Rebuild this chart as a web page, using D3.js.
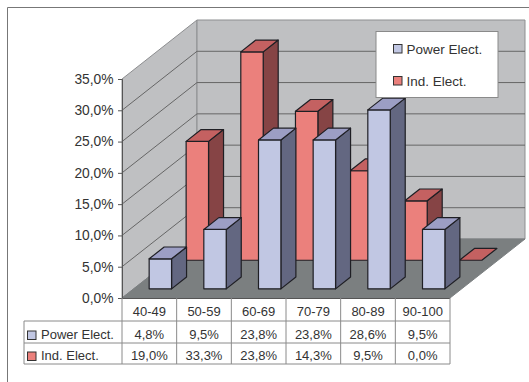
<!DOCTYPE html>
<html>
<head>
<meta charset="utf-8">
<script src="https://cdn.jsdelivr.net/npm/d3@7/dist/d3.min.js"></script>
<style>
html,body{margin:0;padding:0;background:#fff;overflow:hidden}
svg{display:block}
text{font-family:"Liberation Sans",Arial,sans-serif;fill:#333}
</style>
</head>
<body>
<svg id="chart" width="529" height="382"></svg>
<script>
const categories = ["40-49","50-59","60-69","70-79","80-89","90-100"];
const powerElect = [4.8,9.5,23.8,23.8,28.6,9.5];
const indElect = [19.0,33.3,23.8,14.3,9.5,0.0];
const yTicks = [0,5,10,15,20,25,30,35];

const palette = {
  power:{front:"#c1c7e3",top:"#9c9ec4",side:"#636781",key:"#c1c7e3"},
  ind:{front:"#eb807c",top:"#c46161",side:"#864445",key:"#eb807c"}
};
const series = [
  {name:"Ind. Elect.",values:indElect,colors:palette.ind,lane:0.64,shift:0},
  {name:"Power Elect.",values:powerElect,colors:palette.power,lane:0.155,shift:-0.6}
];
const rows = [series[1],series[0]];

const svg = d3.select("#chart");
const x = d3.scaleBand().domain(categories).range([122,450]);
const y = d3.scaleLinear().domain([0,35]).range([298,79]);
// Oblique projection: depth 0 is the front edge of the floor, 1 the back wall.
const depthX = d3.scaleLinear().domain([0,1]).range([0,75]);
const depthY = d3.scaleLinear().domain([0,1]).range([0,-59]);
const project = (px,value,depth)=>[px+depthX(depth),y(value)+depthY(depth)];
const poly = pts=>pts.map(p=>p.join(",")).join(" ");

// Chart area frame, open on the right and bottom
svg.append("path").attr("d","M7.5,382V7.5H529").attr("fill","none").attr("stroke","#777").attr("stroke-width",1);

const x0=x.range()[0], x1=x.range()[1];
// Walls and floor
svg.append("polygon").attr("points",poly([project(x0,0,0),project(x0,0,1),project(x0,35,1),project(x0,35,0)]))
  .attr("fill","#bfc0c2").attr("stroke","#8d8e90");
svg.append("polygon").attr("points",poly([project(x0,0,1),project(x1,0,1),project(x1,35,1),project(x0,35,1)]))
  .attr("fill","#bfc0c2").attr("stroke","#8d8e90");
svg.append("polygon").attr("points",poly([project(x0,0,0),project(x1,0,0),project(x1,0,1),project(x0,0,1)]))
  .attr("fill","#7b7f80").attr("stroke","#7b7f80");
svg.append("line").datum(0).attr("x1",d=>project(x0,d,0)[0]).attr("y1",d=>project(x0,d,0)[1]+0.5)
  .attr("x2",d=>project(x1,d,0)[0]).attr("y2",d=>project(x1,d,0)[1]+0.5).attr("stroke","#555");

// Gridlines along the left and back walls
const grid = svg.append("g").attr("fill","none").attr("stroke","#666").attr("stroke-width",1);
yTicks.filter(t=>t>0&&t<35).forEach(t=>{
  const a=project(x0,t,0),b=project(x0,t,1),c=project(x1,t,1);
  grid.append("polyline").attr("points",poly([a,b,c]));
});

// Value axis
const axis = d3.axisLeft(y).tickValues(yTicks).tickSize(4).tickPadding(4.5)
  .tickFormat(d=>d3.format(".1f")(d).replace(".",",")+"%");
const axisG = svg.append("g").attr("transform",`translate(${x0},0)`).call(axis);
axisG.selectAll("line,path").attr("stroke","#555");
axisG.selectAll("text").style("font-size","13.8px").style("font-family",'"Liberation Sans",Arial,sans-serif').attr("fill","#333");

// Bars, back row first so the front row paints over it
const barW = 22.4, barD = 0.2;
series.forEach(s=>{
  const cx = d=>x(d)+x.bandwidth()/2-barW/2+s.shift;
  categories.forEach((c,i)=>{
    const v=s.values[i], l=cx(c), r=l+barW;
    const z0=s.lane, z1=s.lane+barD;
    const g=svg.append("g").attr("stroke","#1f1f24").attr("stroke-width",1.2).attr("stroke-linejoin","round");
    if(v>0){
      g.append("polygon").attr("points",poly([project(r,0,z0),project(r,0,z1),project(r,v,z1),project(r,v,z0)])).attr("fill",s.colors.side);
      g.append("polygon").attr("points",poly([project(l,0,z0),project(r,0,z0),project(r,v,z0),project(l,v,z0)])).attr("fill",s.colors.front);
    }
    g.append("polygon").attr("points",poly([project(l,v,z0),project(r,v,z0),project(r,v,z1),project(l,v,z1)])).attr("fill",s.colors.top);
  });
});

// Data table under the plot
const rowLines=[298,321,343,364];
const table = svg.append("g").attr("stroke","#8a8a8a").attr("stroke-width",1);
const edges = [x0,...categories.slice(1).map(c=>x(c)),x1];
edges.forEach(e=>table.append("line").attr("x1",e).attr("x2",e).attr("y1",298).attr("y2",364));
table.append("line").attr("x1",24).attr("x2",24).attr("y1",321).attr("y2",364);
rowLines.slice(1).forEach(v=>table.append("line").attr("x1",24).attr("x2",x1).attr("y1",v).attr("y2",v));

const cellText=(px,py,t,anchor)=>svg.append("text").attr("x",px).attr("y",py).attr("text-anchor",anchor||"middle")
  .style("font-size","13px").text(t);
categories.forEach(c=>cellText(x(c)+x.bandwidth()/2,316,c));
const fmtCell=v=>d3.format(".1f")(v).replace(".",",")+"%";
rows.forEach((s,ri)=>{
  const base=[339,360][ri];
  svg.append("rect").attr("x",27.5).attr("y",base-8).attr("width",8.5).attr("height",8.5)
    .attr("fill",s.colors.key).attr("stroke","#333").attr("stroke-width",1);
  cellText(41,base,s.name,"start");
  categories.forEach((c,i)=>cellText(x(c)+x.bandwidth()/2,base,fmtCell(s.values[i])));
});

// Legend box
svg.append("rect").attr("x",376).attr("y",31.5).attr("width",122).attr("height",66)
  .attr("fill","#fff").attr("stroke","#8a8a8a");
rows.forEach((s,i)=>{
  const top=[44.5,76.5][i];
  svg.append("rect").attr("x",393.5).attr("y",top).attr("width",8.5).attr("height",8.5)
    .attr("fill",s.colors.key).attr("stroke","#333").attr("stroke-width",1);
  svg.append("text").attr("x",406.5).attr("y",top+9).style("font-size","13.5px").text(s.name);
});
</script>
</body>
</html>
